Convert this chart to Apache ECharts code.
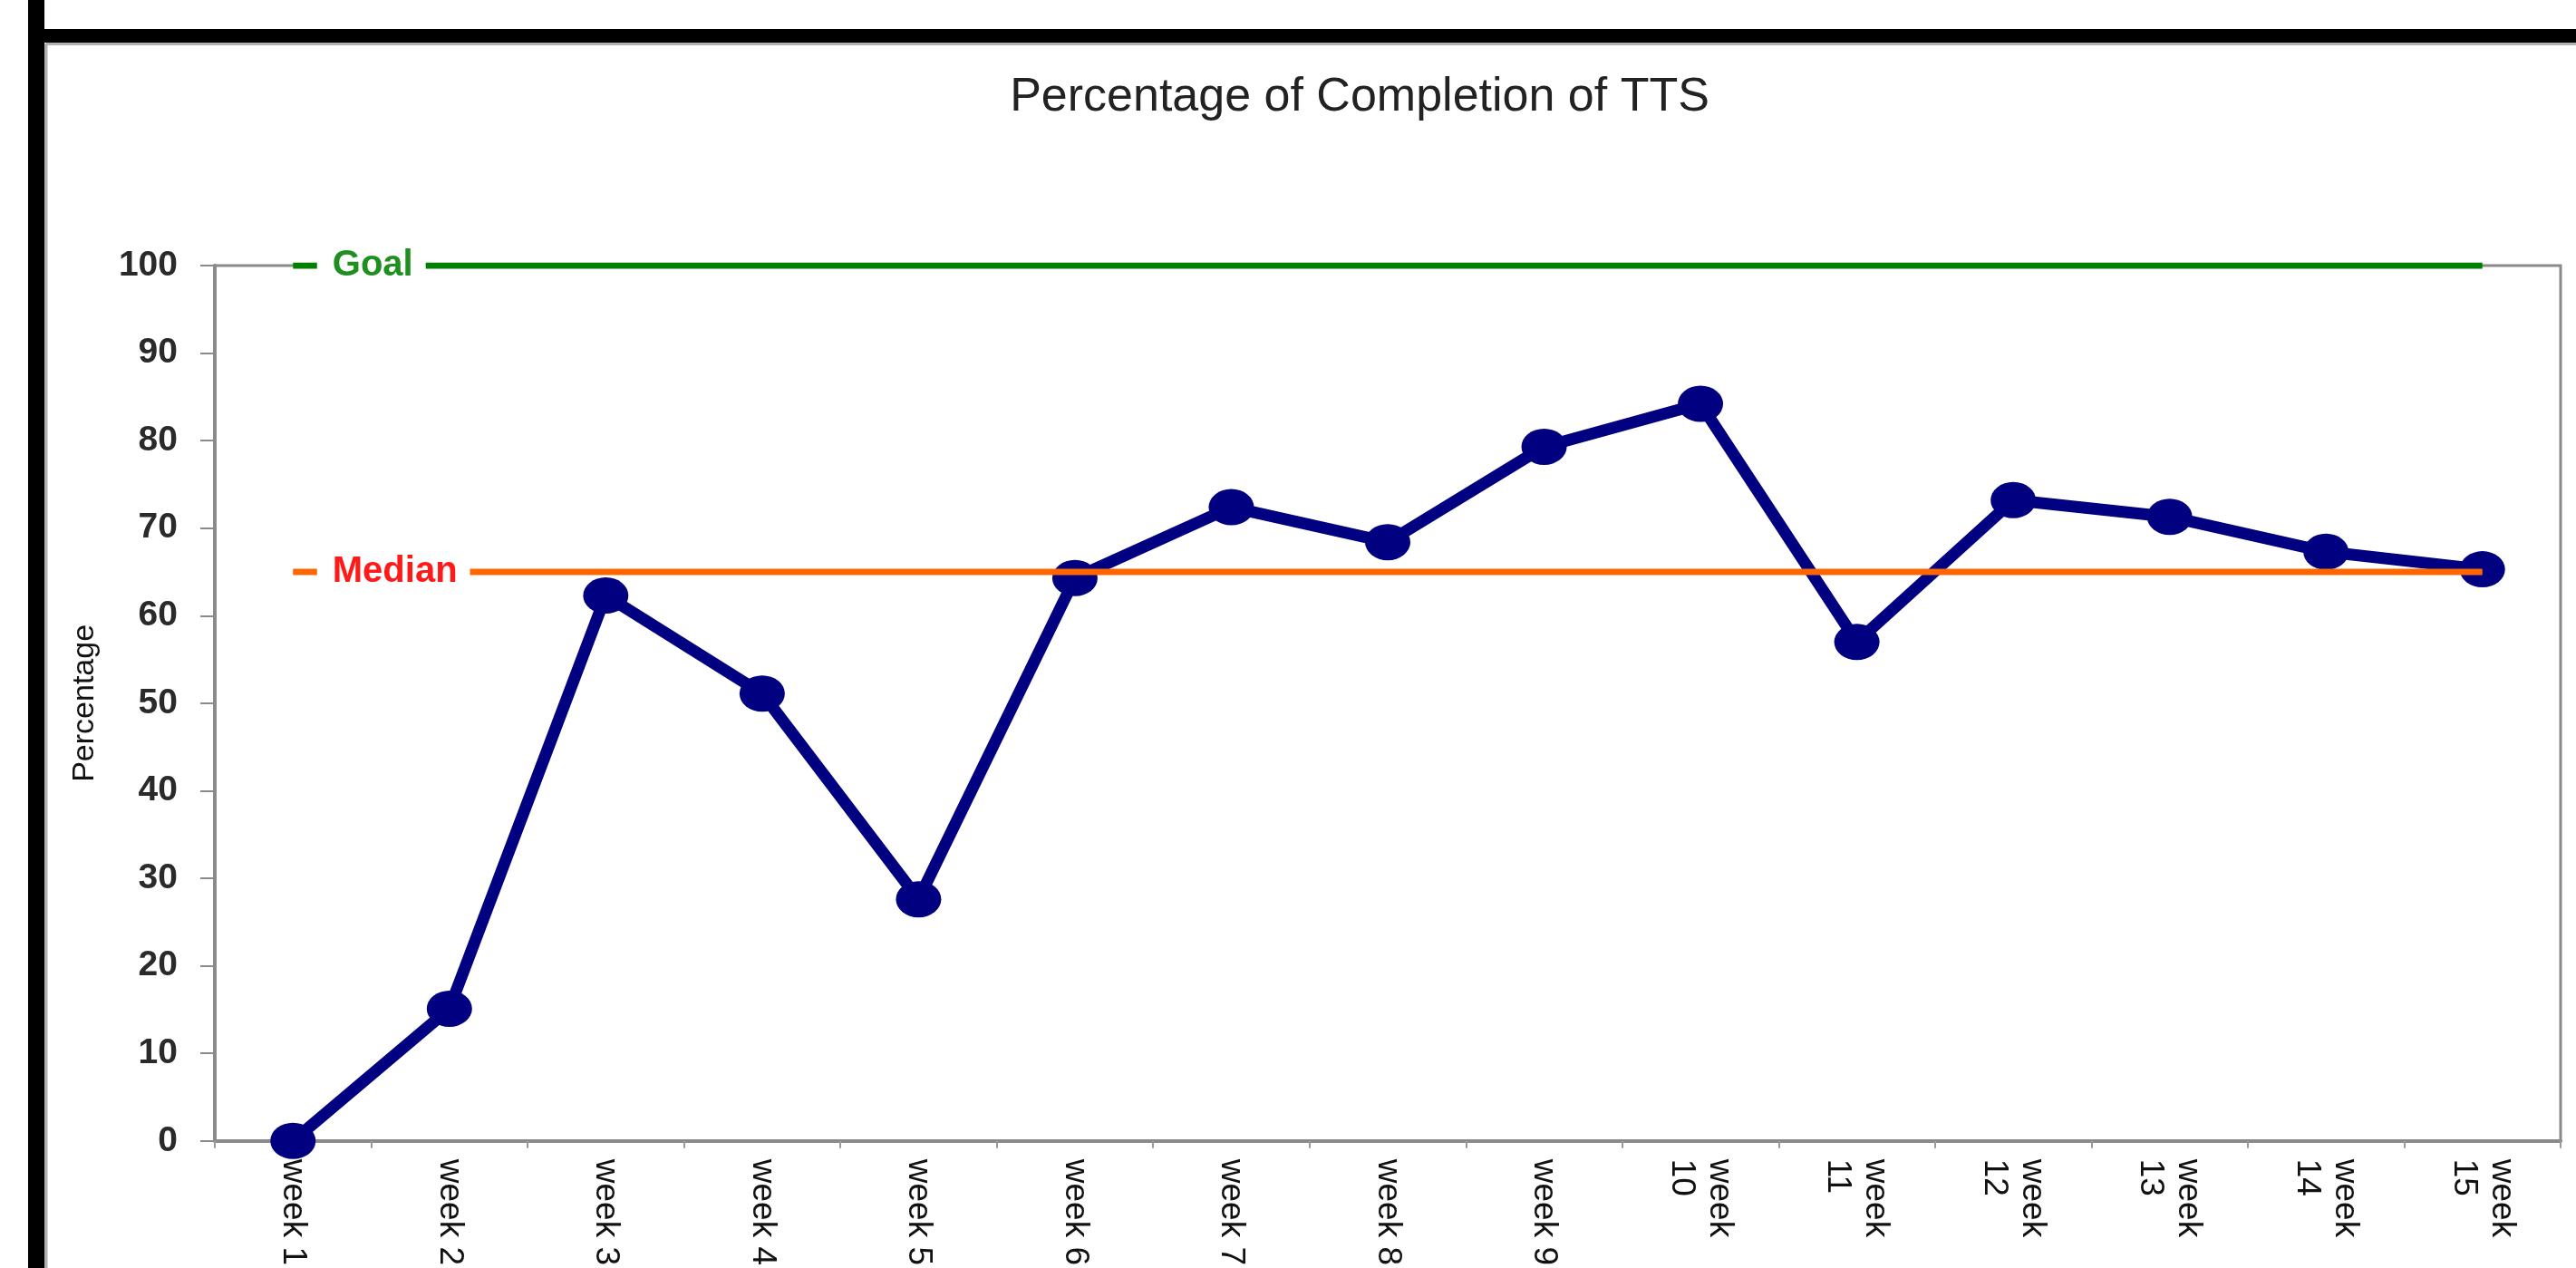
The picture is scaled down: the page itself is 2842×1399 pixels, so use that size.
<!DOCTYPE html>
<html>
<head>
<meta charset="utf-8">
<script src="https://cdn.jsdelivr.net/npm/echarts@6/dist/echarts.min.js"></script>
<style>
  html, body { margin: 0; padding: 0; background: #ffffff; }
  #chart { width: 2842px; height: 1399px; }
</style>
</head>
<body>
<div id="chart"></div>
<script>
const titleText = 'Percentage of Completion of TTS';
const yAxisName = 'Percentage';
const categories = ['week 1', 'week 2', 'week 3', 'week 4', 'week 5', 'week 6', 'week 7', 'week 8', 'week 9',
  'week\n10', 'week\n11', 'week\n12', 'week\n13', 'week\n14', 'week\n15'];
const completion = [0, 15.1, 62.3, 51.1, 27.6, 64.3, 72.4, 68.4, 79.3, 84.2, 57.0, 73.2, 71.3, 67.3, 65.3];
const goalLabel = 'Goal';
const goalLine = [100, 100, 100, 100, 100, 100, 100, 100, 100, 100, 100, 100, 100, 100, 100];
const medianLabel = 'Median';
const medianLine = [65, 65, 65, 65, 65, 65, 65, 65, 65, 65, 65, 65, 65, 65, 65];
const yTicks = [0, 10, 20, 30, 40, 50, 60, 70, 80, 90, 100];

const FONT = "'Liberation Sans', Arial, sans-serif";
const chart = echarts.init(document.getElementById('chart'), null, { renderer: 'canvas' });

function refLabel(text, color) {
  return {
    symbol: 'rect',
    symbolSize: [1, 1],
    itemStyle: { color: 'rgba(0,0,0,0)' },
    label: {
      show: true,
      position: 'right',
      distance: 26,
      formatter: text,
      color: color,
      fontFamily: FONT,
      fontSize: 40,
      fontWeight: 'bold',
      backgroundColor: '#ffffff',
      padding: [2, 14, 2, 17]
    }
  };
}

chart.setOption({
  backgroundColor: '#ffffff',
  animation: false,
  title: {
    text: titleText,
    left: 1495,
    top: 77,
    textAlign: 'center',
    textStyle: { fontFamily: FONT, fontSize: 52, fontWeight: 'normal', color: '#222222' }
  },
  graphic: [
    { type: 'rect', shape: { x: 31, y: 0, width: 18, height: 1399 }, style: { fill: '#000000' }, z: 100 },
    { type: 'rect', shape: { x: 31, y: 32, width: 2811, height: 15 }, style: { fill: '#000000' }, z: 100 },
    { type: 'line', shape: { x1: 51, y1: 48.5, x2: 2842, y2: 48.5 }, style: { stroke: '#b0b0b0', lineWidth: 3 }, z: 99 },
    { type: 'line', shape: { x1: 50.5, y1: 48, x2: 50.5, y2: 1399 }, style: { stroke: '#b0b0b0', lineWidth: 4 }, z: 99 }
  ],
  grid: {
    left: 237, right: 17, top: 293, bottom: 137,
    show: true, borderColor: '#8a8a8a', borderWidth: 3, backgroundColor: 'transparent'
  },
  xAxis: {
    type: 'category',
    data: categories,
    boundaryGap: true,
    axisLine: { lineStyle: { color: '#8a8a8a', width: 4 } },
    axisTick: { show: true, interval: 0, length: 8, lineStyle: { color: '#9a9a9a', width: 2 } },
    axisLabel: {
      interval: 0, rotate: -90, margin: 20,
      fontFamily: FONT, fontSize: 37, color: '#111111', lineHeight: 42
    }
  },
  yAxis: {
    type: 'value',
    min: yTicks[0], max: yTicks[yTicks.length - 1], interval: 10,
    name: yAxisName,
    nameLocation: 'middle',
    nameGap: 126,
    nameRotate: 90,
    nameTextStyle: { fontFamily: FONT, fontSize: 34, color: '#111111' },
    splitLine: { show: false },
    axisLine: { show: true, lineStyle: { color: '#8a8a8a', width: 4 } },
    axisTick: { show: true, inside: false, length: 16, lineStyle: { color: '#8a8a8a', width: 2 } },
    axisLabel: { margin: 41, fontFamily: FONT, fontSize: 39, fontWeight: 'bold', color: '#2a2a2a' }
  },
  series: [
    {
      name: 'Completion',
      type: 'line',
      data: completion,
      z: 3,
      symbol: 'circle',
      symbolSize: [50, 40],
      lineStyle: { color: '#000080', width: 13 },
      itemStyle: { color: '#000080' }
    },
    {
      name: goalLabel,
      type: 'line',
      data: goalLine,
      z: 4,
      showSymbol: false,
      symbol: 'none',
      lineStyle: { color: '#008000', width: 7 },
      markPoint: { silent: true, data: [Object.assign({ coord: [0, goalLine[0]] }, refLabel(goalLabel, '#1f8f1f'))] }
    },
    {
      name: medianLabel,
      type: 'line',
      data: medianLine,
      z: 4,
      showSymbol: false,
      symbol: 'none',
      lineStyle: { color: '#ff6600', width: 7 },
      markPoint: { silent: true, data: [Object.assign({ coord: [0, medianLine[0]] }, refLabel(medianLabel, '#ff1a1a'))] }
    }
  ]
});
</script>
</body>
</html>
